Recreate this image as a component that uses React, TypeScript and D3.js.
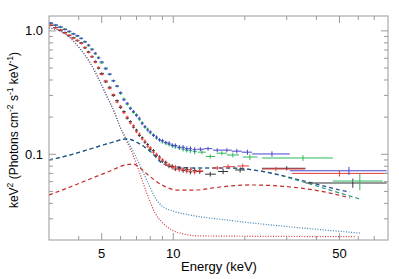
import { useEffect, useRef } from 'react';
import * as d3 from 'd3';

// shared energy grid (keV) for the densely binned part of the spectra
const energyGrid = [3.05, 3.2, 3.35, 3.5, 3.65, 3.8, 3.95, 4.1, 4.25, 4.4, 4.55, 4.7, 4.85, 5.0, 5.2, 5.4, 5.6, 5.8, 6.0, 6.2, 6.4, 6.6, 6.8, 7.0, 7.2, 7.4, 7.6, 7.8, 8.0, 8.25, 8.5, 8.75, 9.0, 9.3, 9.6, 9.9, 10.2, 10.6, 11.0, 11.4, 11.8, 12.3];
const binHalf = [0.075, 0.075, 0.075, 0.075, 0.075, 0.075, 0.075, 0.075, 0.075, 0.075, 0.075, 0.075, 0.075, 0.1, 0.1, 0.1, 0.1, 0.1, 0.1, 0.1, 0.1, 0.1, 0.1, 0.1, 0.1, 0.1, 0.1, 0.1, 0.12, 0.12, 0.12, 0.12, 0.15, 0.15, 0.15, 0.15, 0.2, 0.2, 0.2, 0.2, 0.2, 0.25];
const relErr = [0.018, 0.018, 0.018, 0.018, 0.018, 0.018, 0.018, 0.018, 0.019, 0.019, 0.019, 0.02, 0.02, 0.02, 0.021, 0.021, 0.022, 0.022, 0.023, 0.023, 0.024, 0.024, 0.025, 0.025, 0.026, 0.026, 0.027, 0.028, 0.029, 0.03, 0.031, 0.032, 0.033, 0.034, 0.036, 0.037, 0.038, 0.04, 0.042, 0.044, 0.046, 0.048];

const fluxBlue = [1.16, 1.11, 1.078, 1.026, 0.993, 0.942, 0.915, 0.87, 0.812, 0.768, 0.704, 0.66, 0.602, 0.56, 0.492, 0.446, 0.394, 0.357, 0.316, 0.276, 0.259, 0.234, 0.223, 0.206, 0.196, 0.177, 0.168, 0.157, 0.152, 0.142, 0.138, 0.131, 0.129, 0.124, 0.123, 0.118, 0.118, 0.114, 0.114, 0.111, 0.111, 0.109];
const fluxGreen = [1.15, 1.12, 1.068, 1.036, 0.982, 0.952, 0.905, 0.868, 0.822, 0.757, 0.715, 0.65, 0.611, 0.55, 0.5, 0.446, 0.393, 0.356, 0.31, 0.281, 0.254, 0.238, 0.218, 0.21, 0.191, 0.181, 0.165, 0.16, 0.149, 0.144, 0.135, 0.131, 0.126, 0.124, 0.12, 0.118, 0.115, 0.113, 0.11, 0.108, 0.107, 0.105];
const fluxBlack = [1.108, 1.066, 1.01, 0.97, 0.915, 0.88, 0.832, 0.8, 0.728, 0.677, 0.615, 0.565, 0.498, 0.452, 0.386, 0.349, 0.299, 0.272, 0.239, 0.222, 0.196, 0.184, 0.166, 0.157, 0.142, 0.136, 0.125, 0.12, 0.11, 0.107, 0.098, 0.095, 0.088, 0.086, 0.08, 0.08, 0.076, 0.077, 0.074, 0.075, 0.072, 0.074];
const fluxRed = [1.116, 1.058, 1.02, 0.96, 0.924, 0.872, 0.84, 0.79, 0.736, 0.668, 0.622, 0.556, 0.506, 0.444, 0.394, 0.342, 0.305, 0.265, 0.245, 0.217, 0.2, 0.179, 0.17, 0.152, 0.146, 0.133, 0.128, 0.116, 0.113, 0.104, 0.1, 0.093, 0.09, 0.083, 0.082, 0.078, 0.079, 0.075, 0.076, 0.073, 0.075, 0.072];

// wide high-energy bins: [energy, eLow, eHigh, flux, fluxErr]
const blueHigh = [[13.0, 12.6, 13.5, 0.11, 0.004], [14.0, 13.5, 14.6, 0.111, 0.004], [15.3, 14.7, 16.0, 0.108, 0.004], [16.8, 16.0, 17.6, 0.108, 0.004], [18.5, 17.6, 19.4, 0.106, 0.0045], [20.5, 19.4, 21.4, 0.104, 0.005], [26.0, 21.4, 30.9, 0.1006, 0.005], [54.8, 30.9, 79.0, 0.0735, 0.0055]];
const greenHigh = [[13.2, 12.7, 13.7, 0.104, 0.004], [14.3, 13.7, 15.0, 0.096, 0.004], [16.0, 15.2, 16.8, 0.102, 0.004], [17.8, 16.8, 18.9, 0.0987, 0.0045], [21.0, 19.6, 22.6, 0.095, 0.005], [35.1, 23.6, 46.9, 0.0933, 0.005], [60.9, 46.9, 76.0, 0.0607, 0.0095]];
const blackHigh = [[12.9, 12.5, 13.3, 0.0725, 0.003], [14.3, 13.6, 15.1, 0.069, 0.003], [16.2, 15.4, 17.0, 0.0725, 0.0035], [19.1, 18.2, 20.0, 0.0746, 0.0035], [30.0, 23.6, 36.0, 0.077, 0.003], [56.9, 36.0, 79.0, 0.0585, 0.005]];
const redHigh = [[12.95, 12.5, 13.4, 0.0732, 0.003], [15.3, 14.6, 16.0, 0.0774, 0.003], [17.0, 16.2, 18.2, 0.0793, 0.0035], [19.6, 18.6, 20.8, 0.0804, 0.0035], [27.0, 23.6, 35.8, 0.076, 0.003], [50.0, 31.5, 79.0, 0.07, 0.004]];

// model components: [energy, flux]
const dashBlue = [[3.0, 0.0899], [3.68, 0.0987], [4.47, 0.1104], [5.42, 0.1235], [6.39, 0.1331], [7.11, 0.1235], [8.14, 0.1024], [8.96, 0.085], [10.16, 0.0789], [12.3, 0.0774], [17.3, 0.0774], [23.1, 0.0732], [28.1, 0.068], [34.1, 0.0619], [41.4, 0.0564], [50.2, 0.0513], [55.3, 0.0495]];
const dashGreen = [[3.0, 0.0899], [3.68, 0.0987], [4.47, 0.1104], [5.42, 0.1235], [6.39, 0.1331], [7.11, 0.1235], [8.14, 0.1024], [8.96, 0.085], [10.16, 0.0789], [12.3, 0.0774], [17.3, 0.0774], [23.1, 0.0732], [28.1, 0.0675], [34.1, 0.0607], [41.4, 0.0543], [50.2, 0.0485], [60.9, 0.0434]];
const dashRed = [[3.0, 0.0468], [3.68, 0.0543], [4.47, 0.0631], [5.42, 0.0732], [6.27, 0.0819], [6.77, 0.0834], [7.24, 0.0774], [7.83, 0.068], [8.96, 0.0564], [10.47, 0.0513], [12.3, 0.0513], [15.7, 0.0543], [21.0, 0.0564], [28.1, 0.0553], [34.1, 0.0533], [45.6, 0.0485], [55.3, 0.0442]];
const dotBlue = [[3.0, 1.057], [3.34, 1.0], [3.68, 0.877], [4.09, 0.701], [4.47, 0.55], [4.83, 0.416], [5.22, 0.303], [5.67, 0.216], [5.97, 0.1665], [6.39, 0.1306], [6.9, 0.0987], [7.39, 0.0746], [7.9, 0.0564], [8.46, 0.0434], [8.96, 0.0381], [9.97, 0.0347], [11.75, 0.0322], [16.8, 0.0293], [31.8, 0.0257], [60.9, 0.023]];
const dotRed = [[3.0, 1.057], [3.34, 1.0], [3.68, 0.877], [4.09, 0.701], [4.47, 0.55], [4.83, 0.416], [5.22, 0.303], [5.67, 0.216], [5.97, 0.1665], [6.39, 0.1259], [6.9, 0.0899], [7.39, 0.0619], [7.9, 0.0434], [8.38, 0.0334], [8.96, 0.0282], [9.87, 0.0243], [10.67, 0.023], [12.95, 0.0218], [58.0, 0.0215]];

const xLabels = [5, 10, 50];
const yLabels = [0.1, 1];

const Spectrum = () => {
  const svgRef = useRef(null);

  useEffect(() => {
    if (!svgRef.current) return;
    const svg = d3.select(svgRef.current);
    svg.selectAll('*').remove();

    const left = 49, right = 388, top = 16, bottom = 240;
    const x = d3.scaleLog().domain([3, 80]).range([left, right]);
    const y = d3.scaleLog().domain([0.0202, 1.32]).range([bottom, top]);
    const font = '"Liberation Sans", Arial, Helvetica, sans-serif';
    const axisColor = '#9a9a9a';

    svg.append('defs').append('clipPath').attr('id', 'plotclip')
      .append('rect').attr('x', left).attr('y', top)
      .attr('width', right - left).attr('height', bottom - top);

    const plot = svg.append('g').attr('clip-path', 'url(#plotclip)');

    const line = d3.line()
      .x(d => x(d[0]))
      .y(d => y(d[1]))
      .curve(d3.curveMonotoneX);

    const models = [
      { pts: dotRed, color: '#d43a3a', dash: '1,1.6' },
      { pts: dotBlue, color: '#3d7fb0', dash: '1,1.6' },
      { pts: dashRed, color: '#c42a2a', dash: '4,3' },
      { pts: dashGreen, color: '#2f9a78', dash: '4,3' },
      { pts: dashBlue, color: '#2a4f92', dash: '4,3' },
    ];
    models.forEach(m => {
      plot.append('path')
        .attr('d', line(m.pts))
        .attr('fill', 'none')
        .attr('stroke', m.color)
        .attr('stroke-width', 1.2)
        .attr('stroke-dasharray', m.dash);
    });

    const drawCrosses = (rows, color) => {
      const g = plot.append('g').attr('stroke', color).attr('stroke-width', 1);
      rows.forEach(([e, lo, hi, v, err]) => {
        g.append('line').attr('x1', x(lo)).attr('x2', x(hi)).attr('y1', y(v)).attr('y2', y(v));
        g.append('line').attr('x1', x(e)).attr('x2', x(e)).attr('y1', y(v - err)).attr('y2', y(v + err));
      });
    };
    const gridRows = flux => energyGrid.map((e, i) => [e, e - binHalf[i], e + binHalf[i], flux[i], flux[i] * relErr[i]]);

    drawCrosses(gridRows(fluxBlack).concat(blackHigh), '#333333');
    drawCrosses(gridRows(fluxRed).concat(redHigh), '#e83a3a');
    drawCrosses(gridRows(fluxGreen).concat(greenHigh), '#2cba5a');
    drawCrosses(gridRows(fluxBlue).concat(blueHigh), '#4646cc');

    // frame
    svg.append('rect')
      .attr('x', left).attr('y', top)
      .attr('width', right - left).attr('height', bottom - top)
      .attr('fill', 'none').attr('stroke', axisColor).attr('stroke-width', 1);

    const ticks = svg.append('g').attr('stroke', axisColor).attr('stroke-width', 1);
    x.ticks().forEach(t => {
      if (t <= 3 || t >= 80) return;
      const len = xLabels.includes(t) ? 7 : 4;
      const px = x(t);
      ticks.append('line').attr('x1', px).attr('x2', px).attr('y1', bottom).attr('y2', bottom - len);
      ticks.append('line').attr('x1', px).attr('x2', px).attr('y1', top).attr('y2', top + len);
    });
    y.ticks().forEach(t => {
      const py = y(t);
      if (py > bottom - 0.5 || py < top) return;
      const len = yLabels.some(l => Math.abs(l - t) < 1e-9) ? 7 : 4;
      ticks.append('line').attr('x1', left).attr('x2', left + len).attr('y1', py).attr('y2', py);
      ticks.append('line').attr('x1', right).attr('x2', right - len).attr('y1', py).attr('y2', py);
    });

    svg.selectAll('text.xl').data(xLabels).enter().append('text')
      .attr('x', d => x(d)).attr('y', 258)
      .attr('text-anchor', 'middle')
      .attr('font-family', font).attr('font-size', 13)
      .text(d => String(d));

    svg.selectAll('text.yl').data(yLabels).enter().append('text')
      .attr('x', 43).attr('y', d => y(d) + 4.5)
      .attr('text-anchor', 'end')
      .attr('font-family', font).attr('font-size', 13)
      .text(d => d.toFixed(1));

    svg.append('text')
      .attr('x', (left + right) / 2 + 0.5).attr('y', 271)
      .attr('text-anchor', 'middle')
      .attr('font-family', font).attr('font-size', 13)
      .text('Energy (keV)');

    const yt = svg.append('text')
      .attr('transform', 'translate(18,130) rotate(-90)')
      .attr('text-anchor', 'middle')
      .attr('font-family', font).attr('font-size', 12);
    const parts = [['keV', false], ['2', true], [' (Photons cm', false], ['-2', true], [' s', false], ['-1', true], [' keV', false], ['-1', true], [')', false]];
    let raised = false;
    parts.forEach(([txt, sup]) => {
      const ts = yt.append('tspan').text(txt);
      if (sup && !raised) { ts.attr('dy', -5).attr('font-size', 8.5); raised = true; }
      else if (sup) { ts.attr('font-size', 8.5); }
      else if (raised) { ts.attr('dy', 5); raised = false; }
    });
  }, []);

  return (
    <svg ref={svgRef} width={399} height={279}
      style={{ position: 'absolute', left: 0, top: 0, background: '#fff' }} />
  );
};

export default function App() {
  return <Spectrum />;
}
